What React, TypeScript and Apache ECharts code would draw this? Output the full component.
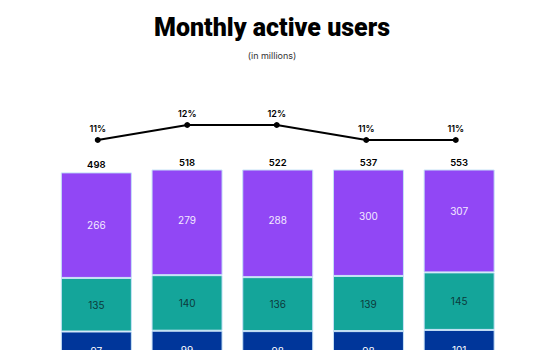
import React, { useEffect, useRef } from "react";
import * as echarts from "echarts";

const quarters = ["Q4 2023", "Q1 2024", "Q2 2024", "Q3 2024", "Q4 2024"];
const usCanada = [97, 99, 98, 98, 101];
const europe = [135, 140, 136, 139, 145];
const restOfWorld = [266, 279, 288, 300, 307];
const totals = [498, 518, 522, 537, 553];
const growth = [11, 12, 12, 11, 11];

const PURPLE = "#9147F5";
const TEAL = "#14A59A";
const BLUE = "#00369A";
const SEP = "#c6e2f7";
const FONT = "Inter, 'Noto Sans', sans-serif";

export default function App() {
  const ref = useRef<HTMLDivElement>(null);
  useEffect(() => {
    if (!ref.current) return;
    const chart = echarts.init(ref.current, undefined, { renderer: "svg" });
    const barW = 71;
    const visible = (name: string, data: number[], color: string, labelColor: string | null) => ({
      name,
      type: "bar",
      stack: "vis",
      xAxisIndex: 0,
      yAxisIndex: 0,
      barWidth: barW,
      barGap: "-100%",
      clip: true,
      data,
      itemStyle: { color, borderColor: SEP, borderWidth: 1 },
      label: labelColor
        ? { show: true, position: "inside", color: labelColor, fontSize: 10, fontFamily: FONT }
        : { show: false },
      z: 2,
    });
    const ghost = (name: string, data: number[], showLabel: boolean) => ({
      name,
      type: "bar",
      stack: "lab",
      xAxisIndex: 0,
      yAxisIndex: 0,
      barWidth: barW,
      barGap: "-100%",
      clip: false,
      data,
      itemStyle: { color: "rgba(0,0,0,0)" },
      label: showLabel
        ? { show: true, position: "inside", color: "#f3eaff", fontSize: 10, fontFamily: FONT }
        : { show: false },
      z: 3,
      silent: true,
    });
    chart.setOption({
      animation: false,
      title: [
        {
          text: "Monthly active users",
          left: "center",
          top: 10,
          textStyle: { fontSize: 25, fontWeight: 900, color: "#000", fontFamily: "Roboto, Inter, sans-serif" },
        },
        {
          text: "(in millions)",
          left: "center",
          top: 46,
          textStyle: { fontSize: 9, fontWeight: 400, color: "#333", fontFamily: FONT },
        },
      ],
      grid: [
        { left: 51, right: 39.5, top: 170, height: 200 },
        { left: 53, right: 43.5, top: 110, height: 45 },
      ],
      xAxis: [
        { type: "category", data: quarters, gridIndex: 0, show: false },
        { type: "category", data: quarters, gridIndex: 1, show: false },
      ],
      yAxis: [
        { type: "value", gridIndex: 0, min: 0, max: 504, show: false },
        { type: "value", gridIndex: 1, min: 10, max: 13, show: false },
      ],
      series: [
        visible("U.S. and Canada", usCanada, BLUE, "#ffffff"),
        visible("Europe", europe, TEAL, "#0c3a3a"),
        visible("Rest of World", restOfWorld, PURPLE, null),
        ghost("g1", usCanada, false),
        ghost("g2", europe, false),
        ghost("g3", restOfWorld, true),
        {
          name: "Total",
          type: "bar",
          stack: "tot",
          xAxisIndex: 0,
          yAxisIndex: 0,
          barWidth: barW,
          barGap: "-100%",
          clip: true,
          data: totals,
          itemStyle: { color: "rgba(0,0,0,0)" },
          label: {
            show: true,
            position: "top",
            distance: 3,
            color: "#000",
            fontSize: 9.5,
            fontWeight: 600,
            fontFamily: FONT,
          },
          z: 1,
          silent: true,
        },
        {
          name: "Growth",
          type: "line",
          xAxisIndex: 1,
          yAxisIndex: 1,
          data: growth,
          symbol: "circle",
          symbolSize: 6,
          lineStyle: { color: "#000", width: 2 },
          itemStyle: { color: "#000" },
          label: {
            show: true,
            position: "top",
            distance: 4,
            formatter: "{c}%",
            color: "#000",
            fontSize: 9,
            fontWeight: 600,
            fontFamily: FONT,
          },
        },
      ],
    });
    return () => chart.dispose();
  }, []);
  return (
    <div style={{ position: "fixed", left: 0, top: 0, width: 544, height: 350, overflow: "hidden", background: "#fff" }}>
      <div ref={ref} style={{ width: 544, height: 420 }} />
    </div>
  );
}
